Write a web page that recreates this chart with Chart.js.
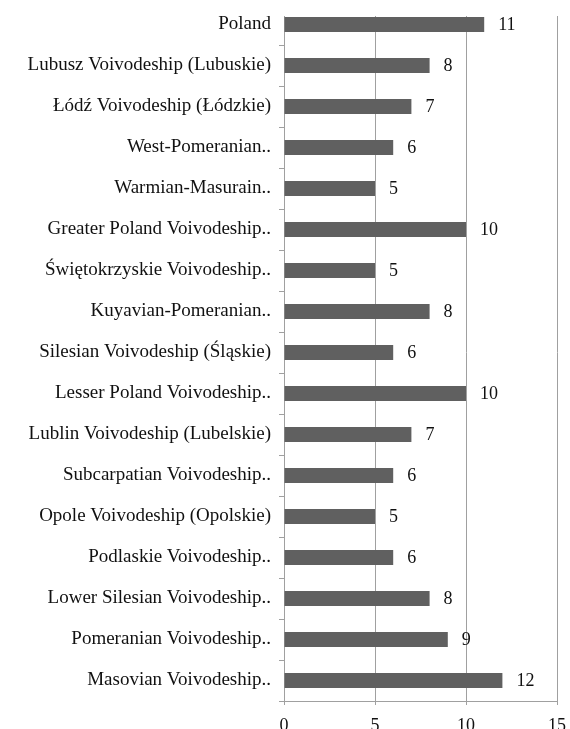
<!DOCTYPE html>
<html>
<head>
<meta charset="utf-8">
<script src="https://cdn.jsdelivr.net/npm/chart.js@4"></script>
<style>
  html, body { margin: 0; padding: 0; background: #fff; }
</style>
</head>
<body>
<canvas id="chart" width="570" height="729"></canvas>
<script>
const regions = [
  'Poland',
  'Lubusz Voivodeship (Lubuskie)',
  'Łódź Voivodeship (Łódzkie)',
  'West-Pomeranian..',
  'Warmian-Masurain..',
  'Greater Poland Voivodeship..',
  'Świętokrzyskie Voivodeship..',
  'Kuyavian-Pomeranian..',
  'Silesian Voivodeship (Śląskie)',
  'Lesser Poland Voivodeship..',
  'Lublin Voivodeship (Lubelskie)',
  'Subcarpatian Voivodeship..',
  'Opole Voivodeship (Opolskie)',
  'Podlaskie Voivodeship..',
  'Lower Silesian Voivodeship..',
  'Pomeranian Voivodeship..',
  'Masovian Voivodeship..'
];
const counts = [11, 8, 7, 6, 5, 10, 5, 8, 6, 10, 7, 6, 5, 6, 8, 9, 12];
const xMin = 0;
const xMax = 15;
const xStep = 5;

const serif = '"Liberation Serif", "Times New Roman", serif';
const gridGrey = '#a0a0a0';

// value written just past the end of each bar
const valueLabels = {
  id: 'valueLabels',
  afterDatasetsDraw(chart) {
    const ctx = chart.ctx;
    const meta = chart.getDatasetMeta(0);
    ctx.save();
    ctx.font = '18px ' + serif;
    ctx.fillStyle = '#111';
    ctx.textAlign = 'left';
    ctx.textBaseline = 'middle';
    meta.data.forEach((bar, i) => {
      ctx.fillText(String(counts[i]), bar.x + 14, bar.y + 1);
    });
    ctx.restore();
  }
};

// plot frame starts at the top of the first bar, as in the original
const topTrim = {
  id: 'topTrim',
  beforeDatasetsDraw(chart) {
    const a = chart.chartArea;
    const ctx = chart.ctx;
    ctx.save();
    ctx.fillStyle = '#fff';
    ctx.fillRect(a.left - 8, a.top - 2, a.right - a.left + 10, 14);
    ctx.restore();
  }
};

const ctx = document.getElementById('chart').getContext('2d');
new Chart(ctx, {
  type: 'bar',
  data: {
    labels: regions,
    datasets: [{
      data: counts,
      backgroundColor: '#606060',
      borderWidth: 0,
      categoryPercentage: 1,
      barPercentage: 0.37
    }]
  },
  options: {
    indexAxis: 'y',
    responsive: false,
    animation: false,
    layout: { padding: { top: 4, right: 13, left: 0, bottom: 0 } },
    plugins: {
      legend: { display: false },
      tooltip: { enabled: false }
    },
    scales: {
      x: {
        min: xMin,
        max: xMax,
        afterFit(scale) {
          scale.height = 28;
          scale.paddingLeft = 0;
          scale.paddingRight = 0;
        },
        ticks: {
          stepSize: xStep,
          color: '#111',
          padding: 12,
          font: { family: serif, size: 18, lineHeight: 1 }
        },
        grid: {
          color: gridGrey,
          lineWidth: 1,
          tickLength: 4,
          drawTicks: true
        },
        border: { color: gridGrey }
      },
      y: {
        afterFit(scale) {
          scale.width = 284;
          scale.paddingTop = 0;
          scale.paddingBottom = 0;
        },
        ticks: {
          color: '#111',
          padding: 8,
          autoSkip: false,
          font: { family: serif, size: 19 }
        },
        grid: {
          drawOnChartArea: false,
          color: gridGrey,
          tickLength: 5,
          offset: true
        },
        border: { color: gridGrey }
      }
    }
  },
  plugins: [valueLabels, topTrim]
});
</script>
</body>
</html>
